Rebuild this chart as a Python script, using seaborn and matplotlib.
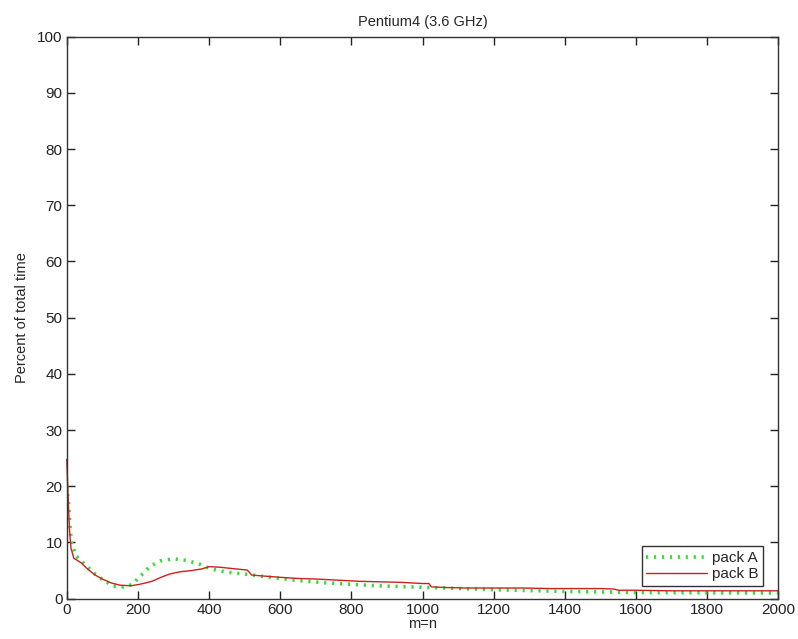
import pandas as pd
import matplotlib
matplotlib.use('Agg')
import matplotlib.pyplot as plt
import seaborn as sns

# pack A (green dotted) and pack B (red solid)
pack_a_x = [0, 5, 10, 15, 28, 56, 75, 94, 131, 160, 183, 207, 235, 263, 300, 338,
            375, 404, 451, 498, 545, 600, 638, 732, 873, 1014, 1202, 1390, 1600, 1800, 2000]
pack_a_y = [20, 17, 12, 9.5, 7.5, 5.8, 4.6, 3.7, 2.2, 2.1, 2.5, 4.0, 5.8, 6.7, 7.1, 6.8,
            6.1, 5.3, 4.7, 4.4, 4.0, 3.6, 3.3, 2.8, 2.3, 2.0, 1.6, 1.3, 1.1, 1.05, 1.0]

pack_b_x = [0, 4, 8, 12, 20, 40, 60, 80, 100, 125, 150, 180, 200, 215, 240, 265, 290,
            320, 350, 380, 400, 430, 460, 490, 507, 512, 520, 560, 600, 650, 700, 760,
            820, 880, 940, 1000, 1018, 1025, 1060, 1120, 1200, 1280, 1360, 1440, 1500,
            1540, 1550, 1600, 1700, 1800, 1900, 2000]
pack_b_y = [24.8, 18, 12, 9, 7.2, 6.4, 5.2, 4.2, 3.5, 2.8, 2.4, 2.3, 2.5, 2.7, 3.1, 3.8, 4.4,
            4.8, 5.0, 5.3, 5.7, 5.6, 5.4, 5.2, 5.1, 4.8, 4.2, 4.0, 3.8, 3.6, 3.5, 3.3,
            3.1, 3.0, 2.9, 2.7, 2.7, 2.1, 2.0, 1.9, 1.9, 1.9, 1.8, 1.8, 1.8,
            1.7, 1.5, 1.5, 1.4, 1.4, 1.4, 1.4]

df_a = pd.DataFrame({'m=n': pack_a_x, 'pct': pack_a_y})
df_b = pd.DataFrame({'m=n': pack_b_x, 'pct': pack_b_y})

sns.set_style("ticks")
plt.rcParams['font.family'] = ['Liberation Sans', 'DejaVu Sans']

fig = plt.figure(figsize=(7.98, 6.39), dpi=100)
ax = fig.add_axes([0.0836, 0.0631, 0.8917, 0.8795])

sns.lineplot(data=df_a, x='m=n', y='pct', ax=ax, color='#33dd33', lw=2.6,
             linestyle=(0, (0.6, 1.6)), label='pack A')
sns.lineplot(data=df_b, x='m=n', y='pct', ax=ax, color='#cc2020', lw=1,
             label='pack B', clip_on=False)

ax.set_xlim(0, 2000)
ax.set_ylim(0, 100)
ax.set_xticks(range(0, 2001, 200))
ax.set_yticks(range(0, 101, 10))
ax.tick_params(direction='in', length=6, width=1, top=True, right=True,
               labelsize=11, colors='#222222', pad=3)
for s in ax.spines.values():
    s.set_visible(True)
    s.set_color('#333333')
    s.set_linewidth(1)

ax.set_xlabel('m=n', fontsize=10.5, labelpad=0)
ax.set_ylabel('Percent of total time', fontsize=10.5, labelpad=6)
ax.set_title('Pentium4 (3.6 GHz)', fontsize=10.5, pad=8)

leg = ax.legend(loc='lower right', bbox_to_anchor=(0.9785, 0.023), fontsize=11,
                fancybox=False, edgecolor='#333333', framealpha=1,
                borderpad=0.3, handlelength=4, handletextpad=0.3, labelspacing=0.15,
                borderaxespad=0)
leg.get_frame().set_linewidth(1)

fig.savefig('out.png', dpi=100)
